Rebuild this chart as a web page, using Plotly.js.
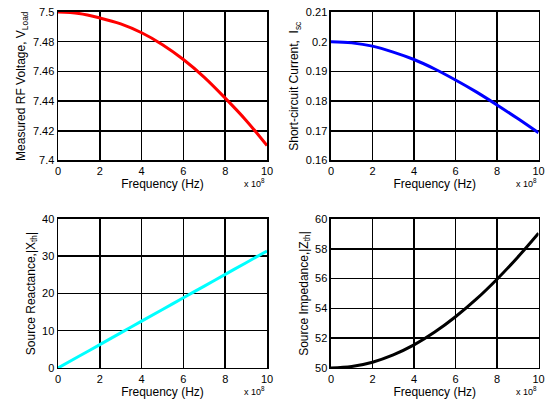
<!DOCTYPE html>
<html><head><meta charset="utf-8">
<script src="https://cdn.plot.ly/plotly-3.0.1.min.js"></script>
<style>html,body{margin:0;padding:0;background:#fff}#c{width:550px;height:401px}</style>
</head><body><div id="c"></div>
<script>
var freq = [0,1e8,2e8,3e8,4e8,5e8,6e8,7e8,8e8,9e8,10e8];
var vLoad = [7.5,7.499,7.496,7.492,7.486,7.478,7.468,7.456,7.442,7.427,7.41];
var iSc = [0.2,0.1996,0.1985,0.1965,0.194,0.1908,0.1871,0.1831,0.1787,0.1741,0.1693];
var xTh = [0,3.14,6.28,9.42,12.57,15.71,18.85,21.99,25.13,28.27,31.42];
var zTh = [50,50.1,50.39,50.88,51.55,52.41,53.44,54.62,55.96,57.44,59.05];
var xTickVals = [0,2e8,4e8,6e8,8e8,10e8];
var xTickText = ['0','2','4','6','8','10'];

var F = 'Arial, "Liberation Sans", sans-serif';
function tr(y, color, xa, ya){
  return {x: freq, y: y, type:'scatter', mode:'lines', line:{color:color, width:3, shape:'spline'}, xaxis:xa, yaxis:ya, showlegend:false};
}
var data = [
  tr(vLoad,'#ff0000','x','y'),
  tr(iSc,'#0000ff','x2','y2'),
  tr(xTh,'#00ffff','x3','y3'),
  tr(zTh,'#000000','x4','y4')
];
function xax(dom, anchor){
  return {domain:dom, anchor:anchor, range:[0,1e9], tickvals:xTickVals, ticktext:xTickText,
    showgrid:true, gridcolor:'#000', gridwidth:1.5, showline:true, linecolor:'#000', linewidth:1.5, mirror:true,
    ticks:'', zeroline:false, tickfont:{family:F,size:11,color:'#000'},
    title:{text:'Frequency (Hz)', font:{family:F,size:12,color:'#000'}, standoff:2}};
}
function yax(dom, anchor, rng, dt, title){
  return {domain:dom, anchor:anchor, range:rng, dtick:dt,
    showgrid:true, gridcolor:'#000', gridwidth:1.5, showline:true, linecolor:'#000', linewidth:1.5, mirror:true,
    ticks:'', zeroline:false, tickfont:{family:F,size:11,color:'#000'},
    title:{text:title, font:{family:F,size:12,color:'#000'}, standoff:4}};
}
var xL=[0.1055,0.4855], xR=[0.6018,0.9791], yT=[0.5998,0.9701], yB=[0.0823,0.4539];
var layout = {
  width:550, height:401, margin:{l:0,r:0,t:0,b:0}, paper_bgcolor:'#fff', plot_bgcolor:'#fff',
  xaxis: xax(xL,'y'), yaxis: yax(yT,'x',[7.4,7.5],0.02,'Measured RF Voltage, V<sub>Load</sub>'),
  xaxis2: xax(xR,'y2'), yaxis2: yax(yT,'x2',[0.16,0.21],0.01,'Short-circuit Current,  I<sub>sc</sub>'),
  xaxis3: xax(xL,'y3'), yaxis3: yax(yB,'x3',[0,40],10,'Source Reactance,|X<sub>th</sub>|'),
  xaxis4: xax(xR,'y4'), yaxis4: yax(yB,'x4',[50,60],2,'Source Impedance,|Z<sub>th</sub>|'),
  annotations: [
    {xref:'paper',yref:'paper',x:0.4855,y:1-183/401,xanchor:'right',yanchor:'middle',text:'x 10<sup>8</sup>',showarrow:false,font:{family:F,size:9,color:'#000'}},
    {xref:'paper',yref:'paper',x:0.9791,y:1-183/401,xanchor:'right',yanchor:'middle',text:'x 10<sup>8</sup>',showarrow:false,font:{family:F,size:9,color:'#000'}},
    {xref:'paper',yref:'paper',x:0.4855,y:1-391/401,xanchor:'right',yanchor:'middle',text:'x 10<sup>8</sup>',showarrow:false,font:{family:F,size:9,color:'#000'}},
    {xref:'paper',yref:'paper',x:0.9791,y:1-391/401,xanchor:'right',yanchor:'middle',text:'x 10<sup>8</sup>',showarrow:false,font:{family:F,size:9,color:'#000'}}
  ]
};
Plotly.newPlot('c', data, layout, {staticPlot:true, displayModeBar:false});
</script></body></html>
